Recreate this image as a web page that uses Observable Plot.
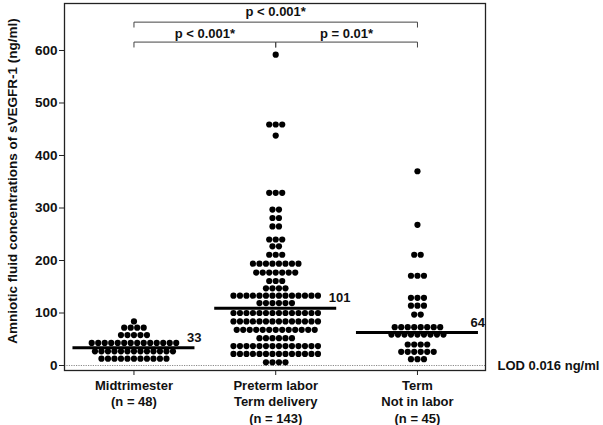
<!DOCTYPE html>
<html><head><meta charset="utf-8">
<script src="https://cdn.jsdelivr.net/npm/d3@7"></script>
<script src="https://cdn.jsdelivr.net/npm/@observablehq/plot@0.6"></script>
<style>body{margin:0;background:#fff;}</style>
</head><body><div id="chart"></div>
<script>
// ---- data ----
const groupLabels = ["Midtrimester\n(n = 48)", "Preterm labor\nTerm delivery\n(n = 143)", "Term\nNot in labor\n(n = 45)"];
const midRowY = [84, 72, 58, 43, 27, 13];
const midRowN = [1, 4, 5, 14, 13, 11];
const pretermRowY = [592, 459, 438, 329, 297, 281, 265, 240, 227, 211, 194, 177, 161, 147, 133, 119, 100, 84, 68, 52, 37, 22, 6];
const pretermRowN = [1, 3, 1, 3, 2, 2, 2, 3, 2, 3, 8, 7, 3, 4, 14, 6, 14, 14, 13, 6, 14, 14, 4];
const termRowY = [370, 268, 211, 171, 129, 114, 97, 73, 59, 40, 26, 12];
const termRowN = [1, 1, 2, 3, 3, 3, 2, 8, 9, 4, 6, 3];
const medianLabels = [33, 101, 64];
const medianLineY = [34, 109, 63];
const yTicks = [0, 100, 200, 300, 400, 500, 600];
const lod = 0.016;
const lodLabel = "LOD 0.016 ng/ml";
const yLabel = "Amniotic fluid concentrations of sVEGFR-1 (ng/ml)";
const compFrom = [0, 0, 1];
const compTo = [2, 1, 2];
const compLabels = ["p < 0.001*", "p < 0.001*", "p = 0.01*"];
const compTier = [1, 0, 0];

// ---- layout ----
const W = 603, H = 425, mL = 64, mR = 118, mT = 3, mB = 55;
const xDomain = [-0.49, 2.48];
const pxPerUnit = (W - mL - mR) / (xDomain[1] - xDomain[0]);
const dotStep = 6.5 / pxPerUnit;
const halfLine = 61 / pxPerUnit;

const rowsY = [midRowY, pretermRowY, termRowY];
const rowsN = [midRowN, pretermRowN, termRowN];
const dots = [];
rowsY.forEach((ys, g) => {
  ys.forEach((y, r) => {
    const n = rowsN[g][r];
    for (let i = 0; i < n; i++) dots.push({x: g + (i - (n - 1) / 2) * dotStep, y});
  });
});
const medians = medianLabels.map((m, g) => ({g, x1: g - halfLine, x2: g + halfLine, y: medianLineY[g], label: String(m)}));

// bracket geometry (in y units)
const tierLevel = [616, 654], tierTick = [606.5, 644.5], tierText = [632, 673];
const bracketPts = [];
compFrom.forEach((f, k) => {
  const t = compTo[k], tier = compTier[k];
  bracketPts.push({id: k, x: f, y: tierTick[tier]}, {id: k, x: f, y: tierLevel[tier]},
                  {id: k, x: t, y: tierLevel[tier]}, {id: k, x: t, y: tierTick[tier]});
});
const comps = compFrom.map((f, k) => ({x: (f + compTo[k]) / 2, y: tierText[compTier[k]], label: compLabels[k]}));

const chart = Plot.plot({
  width: W, height: H, marginLeft: mL, marginRight: mR, marginTop: mT, marginBottom: mB,
  style: {fontFamily: "'Liberation Sans', Arial, sans-serif", fontWeight: "bold", fontSize: "13px", color: "#111", background: "#fff"},
  x: {domain: xDomain, axis: null},
  y: {domain: [-9.5, 689.5], axis: null},
  marks: [
    Plot.ruleY([lod], {stroke: "#8a8a8a", strokeWidth: 1, strokeDasharray: "1.2,1.2"}),
    Plot.frame({stroke: "#222", strokeWidth: 1.3}),
    Plot.axisY({ticks: yTicks, tickSize: 5, tickPadding: 2, fontSize: 13.5, fontWeight: "bold", label: null, stroke: "#222"}),
    Plot.axisX({ticks: [0, 1, 2], tickFormat: i => groupLabels[i], tickSize: 5, tickPadding: 2, lineHeight: 1.3, fontSize: 13, fontWeight: "bold", label: null, stroke: "#222"}),
    Plot.dot(dots, {x: "x", y: "y", r: 3.1, fill: "#000", stroke: "none"}),
    Plot.ruleY(medians, {x1: "x1", x2: "x2", y: "y", stroke: "#000", strokeWidth: 3}),
    Plot.text(medians, {x: "x2", y: "y", text: "label", textAnchor: "start", dx: -8, dy: -10, fontSize: 13, fontWeight: "bold"}),
    Plot.line(bracketPts, {x: "x", y: "y", z: "id", stroke: "#444", strokeWidth: 1}),
    Plot.text(comps, {x: "x", y: "y", text: "label", fontSize: 13, fontWeight: "bold"}),
    Plot.text([lodLabel], {x: xDomain[1], y: lod, dx: 12, textAnchor: "start", fontSize: 13, fontWeight: "bold"}),
    Plot.text([yLabel], {frameAnchor: "left", textAnchor: "middle", rotate: -90, dx: -52, dy: -6, fontSize: 13.5, fontWeight: "bold"})
  ]
});
document.getElementById("chart").appendChild(chart);
</script>
</body></html>
